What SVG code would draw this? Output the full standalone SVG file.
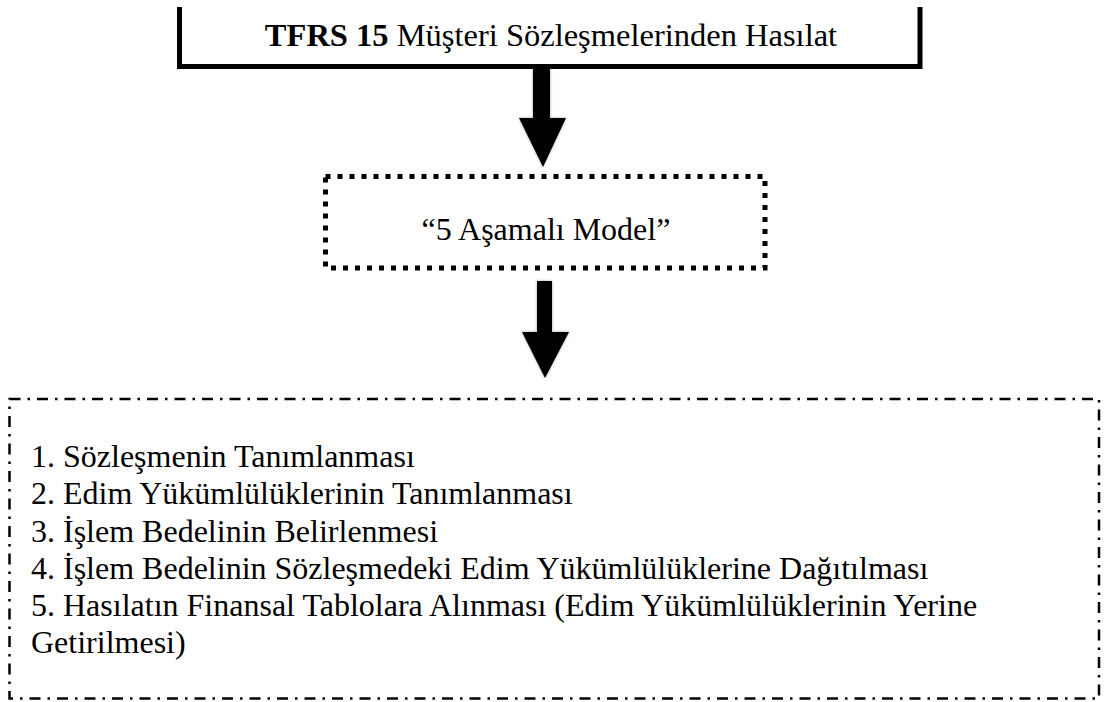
<svg xmlns="http://www.w3.org/2000/svg" width="1104" height="702" viewBox="0 0 1104 702">
  <style>
    .txt { font-family: "Liberation Serif", "Times New Roman", serif; fill: #000; }
    .title { font-size: 32.5px; }
    .model { font-size: 32px; }
    .step { font-size: 32px; }
    .b { font-weight: bold; }
    .frame-solid { fill: none; stroke: #000; stroke-width: 5; }
    .frame-dot { fill: none; stroke: #000; stroke-width: 5; stroke-dasharray: 5 7; }
    .frame-dashdot { fill: none; stroke: #000; stroke-width: 2.5; stroke-dasharray: 11 7 2.5 7; }
    .arrow { fill: #000; }
    .arrow-halo { fill: #000; opacity: 0.35; filter: url(#soft); }
  </style>
  <defs>
    <filter id="soft" x="-30%" y="-30%" width="160%" height="160%">
      <feGaussianBlur stdDeviation="1.6"/>
    </filter>
  </defs>
  <rect width="1104" height="702" fill="#fff"/>

  <!-- standard heading box, open at the top -->
  <g id="node-tfrs15">
    <path class="frame-solid" d="M179.5 7 V66.5 H920 V7"/>
    <text class="txt title" x="551" y="46" text-anchor="middle"><tspan class="b">TFRS 15</tspan> Müşteri Sözleşmelerinden Hasılat</text>
  </g>

  <!-- five-step model box -->
  <g id="node-model">
    <rect class="frame-dot" x="325.5" y="176.5" width="439.5" height="91.5"/>
    <text class="txt model" x="546" y="240" text-anchor="middle">“5 Aşamalı Model”</text>
  </g>

  <!-- list of the five steps -->
  <g id="node-steps">
    <rect class="frame-dashdot" x="9.5" y="399" width="1089.5" height="299.5"/>
    <text class="txt step" x="31" y="467">1. Sözleşmenin Tanımlanması</text>
    <text class="txt step" x="31" y="504">2. Edim Yükümlülüklerinin Tanımlanması</text>
    <text class="txt step" x="31" y="541.5">3. İşlem Bedelinin Belirlenmesi</text>
    <text class="txt step" x="31" y="578.5">4. İşlem Bedelinin Sözleşmedeki Edim Yükümlülüklerine Dağıtılması</text>
    <text class="txt step" x="31" y="616">5. Hasılatın Finansal Tablolara Alınması (Edim Yükümlülüklerinin Yerine</text>
    <text class="txt step" x="31" y="653">Getirilmesi)</text>
  </g>

  <!-- block arrows between the boxes -->
  <g id="connectors">
    <g id="arrow-1">
      <path class="arrow-halo" d="M533 68 H550 V118 H566 L543 167 L519 118 H533 Z"/>
      <path class="arrow" d="M533 68 H550 V118 H566 L543 167 L519 118 H533 Z"/>
    </g>
    <g id="arrow-2">
      <path class="arrow-halo" d="M537 281 H552 V332 H569 L545 378 L522 332 H537 Z"/>
      <path class="arrow" d="M537 281 H552 V332 H569 L545 378 L522 332 H537 Z"/>
    </g>
  </g>
</svg>
